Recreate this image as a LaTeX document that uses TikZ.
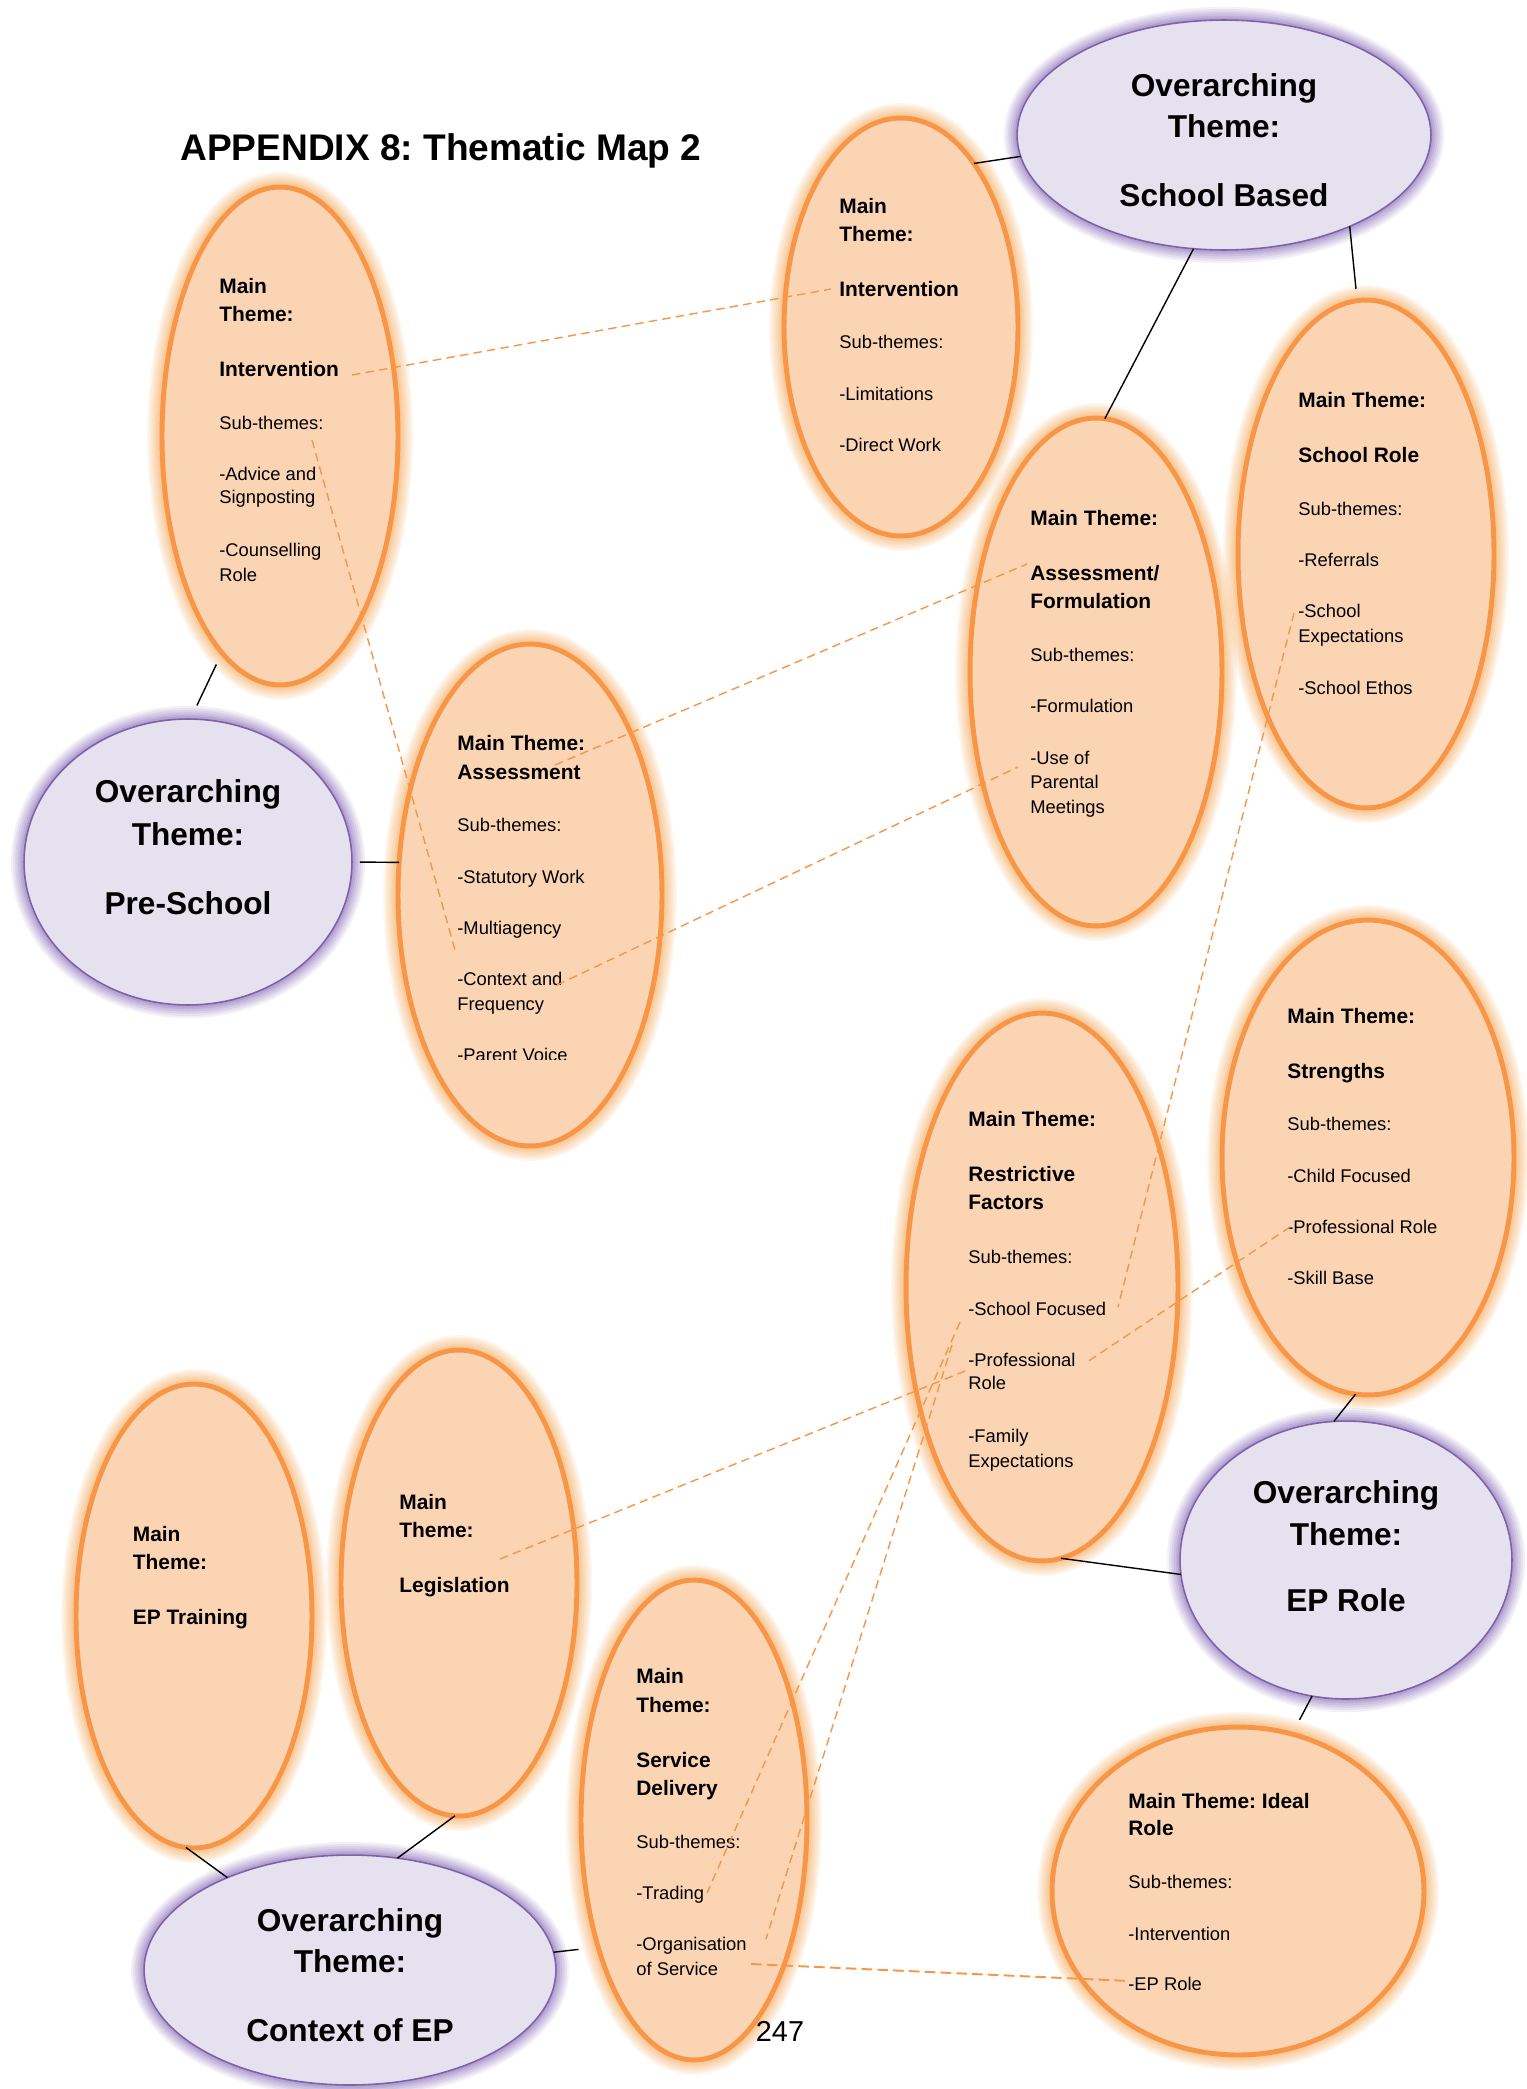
\documentclass[tikz,border=0pt]{standalone}
\usepackage{fontspec}
\setmainfont{Liberation Sans}
\frenchspacing
\usetikzlibrary{shapes.geometric}
\definecolor{peach}{HTML}{FBD4B4}
\definecolor{orangeline}{HTML}{F79646}
\definecolor{orangeglow}{HTML}{F9BA7C}
\definecolor{lilac}{HTML}{E6E1EE}
\definecolor{purpleline}{HTML}{7D62A8}
\definecolor{purpleglow}{HTML}{A088C8}

\begin{document}
\begin{tikzpicture}[x=0.02cm, y=-0.02cm,
  mainoval/.style={ellipse, inner sep=0pt, outer sep=0pt, fill=peach, draw=orangeline, line width=2.8pt,
    preaction={draw=orangeglow, line width=17pt, draw opacity=0.14},
    preaction={draw=orangeglow, line width=14.5pt, draw opacity=0.16},
    preaction={draw=orangeglow, line width=12pt, draw opacity=0.18},
    preaction={draw=orangeglow, line width=9.5pt, draw opacity=0.2},
    preaction={draw=orangeglow, line width=7pt, draw opacity=0.24},
    preaction={draw=orangeglow, line width=5pt, draw opacity=0.3}},
  overoval/.style={ellipse, inner sep=0pt, outer sep=0pt, fill=lilac, draw=purpleline, line width=0.9pt,
    preaction={draw=purpleglow, line width=15pt, draw opacity=0.12},
    preaction={draw=purpleglow, line width=12.5pt, draw opacity=0.15},
    preaction={draw=purpleglow, line width=10pt, draw opacity=0.18},
    preaction={draw=purpleglow, line width=7.5pt, draw opacity=0.22},
    preaction={draw=purpleglow, line width=5pt, draw opacity=0.28},
    preaction={draw=purpleglow, line width=3pt, draw opacity=0.35}},
  subtxt/.style={anchor=base west, inner sep=0pt, font=\fontsize{10.45}{12}\selectfont},
  headtxt/.style={anchor=base west, inner sep=0pt, font=\fontsize{11.9}{14}\selectfont\bfseries},
  overtxt/.style={anchor=base, inner sep=0pt, font=\fontsize{18}{22}\selectfont\bfseries},
  solidtie/.style={draw=black, line width=0.8pt},
  dashlink/.style={draw=orangeline, line width=0.8pt, dash pattern=on 4.8pt off 3pt},
]
% page
\path[fill=white, use as bounding box] (0,0) rectangle (1527,2089);

% theme ovals
\node[mainoval, minimum width=4.72cm, minimum height=9.96cm] (A) at (280,436) {};
\node[mainoval, minimum width=4.68cm, minimum height=8.36cm] (B) at (901,327) {};
\node[overoval, minimum width=8.28cm, minimum height=4.6cm] (C) at (1224,135) {};
\node[mainoval, minimum width=5.04cm, minimum height=10.16cm] (D) at (1096,672) {};
\node[mainoval, minimum width=5.12cm, minimum height=10.16cm] (E) at (1366,554) {};
\node[overoval, minimum width=6.56cm, minimum height=5.72cm] (F) at (188,862) {};
\node[mainoval, minimum width=5.28cm, minimum height=10.04cm] (G) at (530,895) {};
\node[mainoval, minimum width=5.84cm, minimum height=9.5cm] (H) at (1368,1157.5) {};
\node[mainoval, minimum width=5.44cm, minimum height=10.96cm] (I) at (1042,1287) {};
\node[overoval, minimum width=6.64cm, minimum height=5.56cm] (J) at (1346,1560) {};
\node[mainoval, minimum width=7.44cm, minimum height=6.56cm] (K) at (1238,1891) {};
\node[mainoval, minimum width=4.72cm, minimum height=9.28cm] (L) at (194,1616) {};
\node[mainoval, minimum width=4.72cm, minimum height=9.32cm] (M) at (459,1583) {};
\node[mainoval, minimum width=4.52cm, minimum height=9.6cm] (N) at (694,1820) {};
\node[overoval, minimum width=8.24cm, minimum height=4.6cm] (O) at (350,1970) {};

% heading and page number
\node[anchor=base west, inner sep=0pt, font=\fontsize{21.1}{24}\selectfont\bfseries] (title) at (180,160.4) {APPENDIX 8: Thematic Map 2};
\node[anchor=base, inner sep=0pt, font=\fontsize{16.4}{18}\selectfont] (pageno) at (780,2041.4) {247};

% pre-school: intervention
\node[headtxt] (a1) at (219,293.5) {Main};
\node[headtxt] (a2) at (219,321.5) {Theme:};
\node[headtxt] (a3) at (219,376.5) {Intervention};
\node[subtxt] (a4) at (219,429.6) {Sub-themes:};
\node[subtxt] (a5) at (219,480.6) {-Advice and};
\node[subtxt] (a6) at (219,503.6) {Signposting};
\node[subtxt] (a7) at (219,556.6) {-Counselling};
\node[subtxt] (a8) at (219,581.6) {Role};

% school based: intervention
\node[headtxt] (b1) at (839,213.5) {Main};
\node[headtxt] (b2) at (839,241.5) {Theme:};
\node[headtxt] (b3) at (839,296.5) {Intervention};
\node[subtxt] (b4) at (839,348.6) {Sub-themes:};
\node[subtxt] (b5) at (839,400.6) {-Limitations};
\node[subtxt] (b6) at (839,451.6) {-Direct Work};

% overarching: school based
\node[overtxt] (c1) at (1224,96.5) {Overarching};
\node[overtxt] (c2) at (1224,137.5) {Theme:};
\node[overtxt] (c3) at (1224,206.5) {School Based};

% assessment / formulation
\node[headtxt] (d1) at (1030,525) {Main Theme:};
\node[headtxt] (d2) at (1030,580.5) {Assessment/};
\node[headtxt] (d3) at (1030,608.5) {Formulation};
\node[subtxt] (d4) at (1030,661.3) {Sub-themes:};
\node[subtxt] (d5) at (1030,712.6) {-Formulation};
\node[subtxt] (d6) at (1030,764.6) {-Use of};
\node[subtxt] (d7) at (1030,788.6) {Parental};
\node[subtxt] (d8) at (1030,813.6) {Meetings};

% school role
\node[headtxt] (e1) at (1298,407) {Main Theme:};
\node[headtxt] (e2) at (1298,462.5) {School Role};
\node[subtxt] (e3) at (1298,515) {Sub-themes:};
\node[subtxt] (e4) at (1298,566.6) {-Referrals};
\node[subtxt] (e5) at (1298,617) {-School};
\node[subtxt] (e6) at (1298,642.6) {Expectations};
\node[subtxt] (e7) at (1298,694.6) {-School Ethos};

% overarching: pre-school
\node[overtxt] (f1) at (188,802) {Overarching};
\node[overtxt] (f2) at (188,845) {Theme:};
\node[overtxt] (f3) at (188,914.5) {Pre-School};

% assessment
\node[headtxt] (g1) at (457,750) {Main Theme:};
\node[headtxt] (g2) at (457,779) {Assessment};
\node[subtxt] (g3) at (457,831.6) {Sub-themes:};
\node[subtxt] (g4) at (457,883.6) {-Statutory Work};
\node[subtxt] (g5) at (457,934.6) {-Multiagency};
\node[subtxt] (g6) at (457,985.6) {-Context and};
\node[subtxt] (g7) at (457,1010) {Frequency};
\begin{scope}
  \clip (440,1000) rectangle (700,1059);
  \node[subtxt] (g8) at (457,1061) {-Parent Voice};
\end{scope}

% strengths
\node[headtxt] (h1) at (1287,1023) {Main Theme:};
\node[headtxt] (h2) at (1287,1078.5) {Strengths};
\node[subtxt] (h3) at (1287,1130) {Sub-themes:};
\node[subtxt] (h4) at (1287,1182) {-Child Focused};
\node[subtxt] (h5) at (1287,1233) {-Professional Role};
\node[subtxt] (h6) at (1287,1284.6) {-Skill Base};

% restrictive factors
\node[headtxt] (i1) at (968,1126.5) {Main Theme:};
\node[headtxt] (i2) at (968,1181.5) {Restrictive};
\node[headtxt] (i3) at (968,1209.5) {Factors};
\node[subtxt] (i4) at (968,1263.6) {Sub-themes:};
\node[subtxt] (i5) at (968,1315.6) {-School Focused};
\node[subtxt] (i6) at (968,1366.6) {-Professional};
\node[subtxt] (i7) at (968,1389.6) {Role};
\node[subtxt] (i8) at (968,1442.6) {-Family};
\node[subtxt] (i9) at (968,1467) {Expectations};

% overarching: EP role
\node[overtxt] (j1) at (1346,1503) {Overarching};
\node[overtxt] (j2) at (1346,1545.5) {Theme:};
\node[overtxt] (j3) at (1346,1611.5) {EP Role};

% ideal role
\node[headtxt] (k1) at (1128,1808) {Main Theme: Ideal};
\node[headtxt] (k2) at (1128,1835.5) {Role};
\node[subtxt] (k3) at (1128,1888) {Sub-themes:};
\node[subtxt] (k4) at (1128,1940) {-Intervention};
\node[subtxt] (k5) at (1128,1990.6) {-EP Role};

% EP training
\node[headtxt] (l1) at (132.5,1541.5) {Main};
\node[headtxt] (l2) at (132.5,1569.5) {Theme:};
\node[headtxt] (l3) at (132.5,1624) {EP Training};

% legislation
\node[headtxt] (m1) at (399,1509.5) {Main};
\node[headtxt] (m2) at (399,1537.5) {Theme:};
\node[headtxt] (m3) at (399,1592) {Legislation};

% service delivery
\node[headtxt] (n1) at (636,1683) {Main};
\node[headtxt] (n2) at (636,1712) {Theme:};
\node[headtxt] (n3) at (636,1767) {Service};
\node[headtxt] (n4) at (636,1795) {Delivery};
\node[subtxt] (n5) at (636,1848) {Sub-themes:};
\node[subtxt] (n6) at (636,1899) {-Trading};
\node[subtxt] (n7) at (636,1950) {-Organisation};
\node[subtxt] (n8) at (636,1975) {of Service};

% overarching: context of EP
\node[overtxt] (o1) at (350,1931) {Overarching};
\node[overtxt] (o2) at (350,1972.5) {Theme:};
\node[overtxt] (o3) at (350,2041.5) {Context of EP};

% links between main themes and overarching themes
\draw[solidtie] (B.66.9) -- (C.186.6);
\draw[solidtie] (C.255.3) -- (D.88.4);
\draw[solidtie, shorten >=6.8pt] (C.324.1) -- (E.92.6);
\draw[solidtie, shorten <=7.4pt, shorten >=8.5pt] (A.255.7) -- (F.89.6);
\draw[solidtie, shorten <=4.5pt] (F.0.7) -- (G.166.1);
\draw[solidtie] (H.267.6) -- (J.95.6);
\draw[solidtie] (I.274) -- (J.185.5);
\draw[solidtie, shorten >=9.2pt] (J.256.9) -- (K.71.8);
\draw[solidtie] (L.268.5) -- (O.143.9);
\draw[solidtie] (M.269.75) -- (O.67.8);
\draw[solidtie, shorten >=11.3pt] (O.5.5) -- (N.233.8);

% ends of the sub-theme links
\coordinate (p1) at (352,375);   \coordinate (q1) at (831,289);
\coordinate (p2) at (312,440);   \coordinate (q2) at (455,950);
\coordinate (p3) at (555,765);   \coordinate (q3) at (1027,564);
\coordinate (p4) at (557,985);   \coordinate (q4) at (1018,767);
\coordinate (p5) at (1294,613);  \coordinate (q5) at (1118,1307);
\coordinate (p6) at (1290,1227); \coordinate (q6) at (1087,1362);
\coordinate (p7) at (500,1559);  \coordinate (q7) at (970,1369);
\coordinate (p8) at (960,1322);  \coordinate (q8) at (707,1893);
\coordinate (p9) at (952,1345);  \coordinate (q9) at (766,1939);
\coordinate (p10) at (751,1964); \coordinate (q10) at (1130,1981);

% dashed links between sub-themes
\draw[dashlink] (p1) -- (q1);
\draw[dashlink] (p2) -- (q2);
\draw[dashlink] (p3) -- (q3);
\draw[dashlink] (p4) -- (q4);
\draw[dashlink] (p5) -- (q5);
\draw[dashlink] (p6) -- (q6);
\draw[dashlink] (p7) -- (q7);
\draw[dashlink] (p8) -- (q8);
\draw[dashlink] (p9) -- (q9);
\draw[dashlink, line width=1.1pt, dash pattern=on 6pt off 3pt] (p10) -- (q10);
\end{tikzpicture}
\end{document}
